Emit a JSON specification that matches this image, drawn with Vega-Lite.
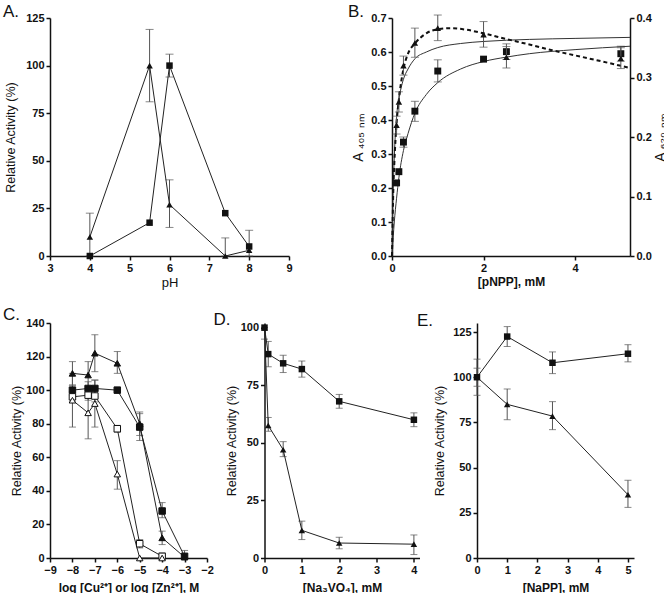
{
  "$schema": "https://vega.github.io/schema/vega-lite/v6.json",
  "background": "white",
  "padding": {"left": 3, "top": 3, "right": 0, "bottom": 0},
  "config": {
    "view": {"stroke": null},
    "axis": {"domainColor": "#111", "domainWidth": 1.5, "tickColor": "#111", "tickWidth": 1.5, "tickSize": 4, "labelFont": "Liberation Sans", "labelFontWeight": "bold", "labelFontSize": 11, "labelColor": "#111", "titleFont": "Liberation Sans", "titleFontSize": 12.5, "titleColor": "#111", "titleFontWeight": "normal", "grid": false, "labelPadding": 2, "labelFlush": false, "labelOverlap": false, "tickCount": 20},
    "title": {"font": "Liberation Sans", "fontSize": 17, "fontWeight": "normal", "anchor": "start", "frame": "group", "color": "#111", "baseline": "alphabetic", "offset": 0}
  },
  "datasets": {
    "A": [
      {"x": 4, "y": 0, "s": "sq"},
      {"x": 5.5, "y": 17.5, "s": "sq"},
      {"x": 6, "y": 100, "lo": 94, "hi": 106, "s": "sq"},
      {"x": 7.4, "y": 22.5, "s": "sq"},
      {"x": 8, "y": 5, "lo": 0, "hi": 13.5, "s": "sq"},
      {"x": 4, "y": 10, "lo": 0, "hi": 22.5, "s": "tri"},
      {"x": 5.5, "y": 100, "lo": 81, "hi": 119, "s": "tri"},
      {"x": 6, "y": 27, "lo": 15, "hi": 40, "s": "tri"},
      {"x": 7.4, "y": 0, "lo": 0, "hi": 9.5, "s": "tri"},
      {"x": 8, "y": 3, "s": "tri"}
    ],
    "Bsq": [
      {"x": 0.1, "y": 0.215},
      {"x": 0.15, "y": 0.248},
      {"x": 0.25, "y": 0.335, "lo": 0.32, "hi": 0.35},
      {"x": 0.5, "y": 0.426, "lo": 0.396, "hi": 0.455},
      {"x": 1, "y": 0.544, "lo": 0.512, "hi": 0.577},
      {"x": 2, "y": 0.579},
      {"x": 2.5, "y": 0.601, "lo": 0.578, "hi": 0.624},
      {"x": 5, "y": 0.595, "lo": 0.573, "hi": 0.617}
    ],
    "Btri": [
      {"x": 0.1, "y": 0.22, "lo": 0.205, "hi": 0.235},
      {"x": 0.15, "y": 0.259, "lo": 0.242, "hi": 0.276},
      {"x": 0.25, "y": 0.32, "lo": 0.304, "hi": 0.336},
      {"x": 0.5, "y": 0.358, "lo": 0.334, "hi": 0.383},
      {"x": 1, "y": 0.383, "lo": 0.362, "hi": 0.405},
      {"x": 2, "y": 0.372, "lo": 0.351, "hi": 0.394},
      {"x": 2.5, "y": 0.334, "lo": 0.316, "hi": 0.352},
      {"x": 5, "y": 0.332, "lo": 0.315, "hi": 0.35}
    ],
    "Bc": [
      {"x": 0, "y": 0, "c": "sq"}, {"x": 0.05, "y": 0.1, "c": "sq"}, {"x": 0.1, "y": 0.17, "c": "sq"}, {"x": 0.15, "y": 0.23, "c": "sq"}, {"x": 0.25, "y": 0.31, "c": "sq"}, {"x": 0.35, "y": 0.36, "c": "sq"}, {"x": 0.5, "y": 0.42, "c": "sq"}, {"x": 0.75, "y": 0.475, "c": "sq"}, {"x": 1, "y": 0.51, "c": "sq"}, {"x": 1.5, "y": 0.55, "c": "sq"}, {"x": 2, "y": 0.572, "c": "sq"}, {"x": 2.5, "y": 0.585, "c": "sq"}, {"x": 3, "y": 0.595, "c": "sq"}, {"x": 4, "y": 0.607, "c": "sq"}, {"x": 5.2, "y": 0.617, "c": "sq"},
      {"x": 0, "y": 0, "c": "tri"}, {"x": 0.02, "y": 0.16, "c": "tri"}, {"x": 0.05, "y": 0.29, "c": "tri"}, {"x": 0.1, "y": 0.41, "c": "tri"}, {"x": 0.15, "y": 0.46, "c": "tri"}, {"x": 0.25, "y": 0.52, "c": "tri"}, {"x": 0.35, "y": 0.55, "c": "tri"}, {"x": 0.5, "y": 0.58, "c": "tri"}, {"x": 0.75, "y": 0.6, "c": "tri"}, {"x": 1, "y": 0.613, "c": "tri"}, {"x": 1.5, "y": 0.625, "c": "tri"}, {"x": 2, "y": 0.631, "c": "tri"}, {"x": 3, "y": 0.637, "c": "tri"}, {"x": 4, "y": 0.64, "c": "tri"}, {"x": 5.2, "y": 0.643, "c": "tri"},
      {"x": 0, "y": 0, "c": "dash"}, {"x": 0.03, "y": 0.2, "c": "dash"}, {"x": 0.05, "y": 0.27, "c": "dash"}, {"x": 0.1, "y": 0.39, "c": "dash"}, {"x": 0.15, "y": 0.46, "c": "dash"}, {"x": 0.25, "y": 0.55, "c": "dash"}, {"x": 0.35, "y": 0.595, "c": "dash"}, {"x": 0.5, "y": 0.625, "c": "dash"}, {"x": 0.75, "y": 0.655, "c": "dash"}, {"x": 1, "y": 0.667, "c": "dash"}, {"x": 1.3, "y": 0.67, "c": "dash"}, {"x": 1.6, "y": 0.666, "c": "dash"}, {"x": 2, "y": 0.655, "c": "dash"}, {"x": 2.5, "y": 0.638, "c": "dash"}, {"x": 3, "y": 0.622, "c": "dash"}, {"x": 3.5, "y": 0.605, "c": "dash"}, {"x": 4, "y": 0.59, "c": "dash"}, {"x": 4.5, "y": 0.575, "c": "dash"}, {"x": 5.2, "y": 0.553, "c": "dash"}
    ],
    "C": [
      {"x": -8, "y": 110, "lo": 103, "hi": 117, "s": "ft"},
      {"x": -7.3, "y": 109, "lo": 101, "hi": 117, "s": "ft"},
      {"x": -7, "y": 122, "lo": 111, "hi": 133, "s": "ft"},
      {"x": -6, "y": 116, "lo": 110, "hi": 123, "s": "ft"},
      {"x": -5, "y": 80, "lo": 73, "hi": 87, "s": "ft"},
      {"x": -4, "y": 12, "lo": 8, "hi": 16, "s": "ft"},
      {"x": -3, "y": 0.5, "s": "ft"},
      {"x": -8, "y": 100, "lo": 97, "hi": 103, "s": "fs"},
      {"x": -7.3, "y": 101, "lo": 97, "hi": 105, "s": "fs"},
      {"x": -7, "y": 101, "lo": 96, "hi": 106, "s": "fs"},
      {"x": -6, "y": 100, "s": "fs"},
      {"x": -5, "y": 78, "lo": 70, "hi": 86, "s": "fs"},
      {"x": -4, "y": 28, "lo": 24, "hi": 33, "s": "fs"},
      {"x": -3, "y": 1, "lo": 0, "hi": 4.5, "s": "fs"},
      {"x": -8, "y": 96, "lo": 93, "hi": 99, "s": "os"},
      {"x": -7.3, "y": 97, "lo": 94, "hi": 100, "s": "os"},
      {"x": -7, "y": 96.5, "lo": 93, "hi": 100, "s": "os"},
      {"x": -6, "y": 77, "lo": 75, "hi": 79, "s": "os"},
      {"x": -5, "y": 8.5, "lo": 6, "hi": 11, "s": "os"},
      {"x": -4, "y": 1, "lo": 0, "hi": 3, "s": "os"},
      {"x": -8, "y": 94, "lo": 78, "hi": 110, "s": "ot"},
      {"x": -7.3, "y": 86.5, "lo": 71, "hi": 102, "s": "ot"},
      {"x": -7, "y": 92, "lo": 78, "hi": 106, "s": "ot"},
      {"x": -6, "y": 50, "lo": 41, "hi": 58, "s": "ot"},
      {"x": -5, "y": 0, "s": "ot"},
      {"x": -4, "y": 0, "s": "ot"}
    ],
    "D": [
      {"x": 0, "y": 100, "s": "sq"},
      {"x": 0.1, "y": 88.5, "lo": 83, "hi": 94, "s": "sq"},
      {"x": 0.5, "y": 84.5, "lo": 80.5, "hi": 88, "s": "sq"},
      {"x": 1, "y": 82, "lo": 78.5, "hi": 85.5, "s": "sq"},
      {"x": 2, "y": 68, "lo": 65, "hi": 71, "s": "sq"},
      {"x": 4, "y": 60, "lo": 57, "hi": 63, "s": "sq"},
      {"x": 0, "y": 100, "lo": 95, "hi": 100, "s": "tri"},
      {"x": 0.1, "y": 57.5, "lo": 55, "hi": 61, "s": "tri"},
      {"x": 0.5, "y": 47, "lo": 44, "hi": 50.5, "s": "tri"},
      {"x": 1, "y": 12, "lo": 8, "hi": 16, "s": "tri"},
      {"x": 2, "y": 6.5, "lo": 4, "hi": 9, "s": "tri"},
      {"x": 4, "y": 6, "lo": 1.5, "hi": 10, "s": "tri"}
    ],
    "E": [
      {"x": 0, "y": 100, "lo": 95, "hi": 105, "s": "sq"},
      {"x": 1, "y": 122.5, "lo": 117, "hi": 128, "s": "sq"},
      {"x": 2.5, "y": 108, "lo": 102, "hi": 114, "s": "sq"},
      {"x": 5, "y": 113, "lo": 108.5, "hi": 118, "s": "sq"},
      {"x": 0, "y": 100, "lo": 90, "hi": 110, "s": "tri"},
      {"x": 1, "y": 85, "lo": 76.5, "hi": 93.5, "s": "tri"},
      {"x": 2.5, "y": 78.5, "lo": 71, "hi": 86.5, "s": "tri"},
      {"x": 5, "y": 35, "lo": 28, "hi": 43, "s": "tri"}
    ]
  },
  "bounds": "flush",
  "spacing": 305,
  "vconcat": [
    {
      "bounds": "flush",
      "spacing": 103,
      "hconcat": [
        {
          "width": 239, "height": 238,
          "title": {"text": "A.", "dx": -47, "dy": 13},
          "data": {"name": "A"},
          "encoding": {"x": {"field": "x", "type": "quantitative", "title": "pH", "scale": {"domain": [3, 9], "nice": false, "zero": false}, "axis": {"values": [3, 4, 5, 6, 7, 8, 9], "format": "d", "tickCount": 20, "labelOverlap": false, "titleFontSize": 13, "titlePadding": 3}}},
          "layer": [
            {"mark": {"type": "rule", "color": "#555", "strokeWidth": 1}, "encoding": {"y": {"field": "lo", "type": "quantitative", "title": "Relative Activity (%)", "scale": {"domain": [0, 125], "nice": false}, "axis": {"values": [0, 25, 50, 75, 100, 125], "format": "d", "tickCount": 20, "labelOverlap": false, "titlePadding": 8}}, "y2": {"field": "hi"}}},
            {"mark": {"type": "tick", "orient": "horizontal", "size": 8, "thickness": 1, "color": "#555"}, "encoding": {"y": {"field": "hi", "type": "quantitative", "title": "Relative Activity (%)"}}},
            {"mark": {"type": "tick", "orient": "horizontal", "size": 8, "thickness": 1, "color": "#555"}, "encoding": {"y": {"field": "lo", "type": "quantitative", "title": "Relative Activity (%)"}}},
            {"mark": {"type": "line", "color": "#222", "strokeWidth": 1}, "encoding": {"y": {"field": "y", "type": "quantitative", "title": "Relative Activity (%)"}, "detail": {"field": "s"}}},
            {"mark": {"type": "point", "filled": true, "opacity": 1, "color": "#111", "size": 42}, "encoding": {"y": {"field": "y", "type": "quantitative", "title": "Relative Activity (%)"}, "shape": {"field": "s", "type": "nominal", "scale": {"domain": ["sq", "tri"], "range": ["square", "triangle-up"]}, "legend": null}}}
          ]
        },
        {
          "width": 238, "height": 238,
          "title": {"text": "B.", "dx": -44, "dy": 13},
          "encoding": {"x": {"field": "x", "type": "quantitative", "title": "[pNPP], mM", "scale": {"domain": [0, 5.2], "nice": false}, "axis": {"values": [0, 2, 4], "format": "d", "tickCount": 20, "labelOverlap": false, "titleFontWeight": "bold", "titleFontSize": 12, "titlePadding": 3}}},
          "layer": [
            {
              "layer": [
                {"data": {"name": "Bsq"}, "mark": {"type": "rule", "color": "#555", "strokeWidth": 1}, "encoding": {"y": {"field": "lo", "type": "quantitative", "title": "A ₄₀₅ ₙₘ", "scale": {"domain": [0, 0.7], "nice": false}, "axis": {"values": [0, 0.1, 0.2, 0.3, 0.4, 0.5, 0.6, 0.7], "tickCount": 20, "labelOverlap": false, "format": ".1f", "titleFontSize": 14, "titlePadding": 5}}, "y2": {"field": "hi"}}},
                {"data": {"name": "Bsq"}, "mark": {"type": "tick", "orient": "horizontal", "size": 8, "thickness": 1, "color": "#555"}, "encoding": {"y": {"field": "hi", "type": "quantitative", "title": "A ₄₀₅ ₙₘ"}}},
                {"data": {"name": "Bsq"}, "mark": {"type": "tick", "orient": "horizontal", "size": 8, "thickness": 1, "color": "#555"}, "encoding": {"y": {"field": "lo", "type": "quantitative", "title": "A ₄₀₅ ₙₘ"}}},
                {"data": {"name": "Bc"}, "transform": [{"filter": "datum.c !== 'dash'"}], "mark": {"type": "line", "color": "#333", "strokeWidth": 1, "interpolate": "monotone"}, "encoding": {"y": {"field": "y", "type": "quantitative", "title": "A ₄₀₅ ₙₘ"}, "detail": {"field": "c"}}},
                {"data": {"name": "Bc"}, "transform": [{"filter": "datum.c === 'dash'"}], "mark": {"type": "line", "color": "#111", "strokeWidth": 2, "strokeDash": [4, 3], "interpolate": "monotone"}, "encoding": {"y": {"field": "y", "type": "quantitative", "title": "A ₄₀₅ ₙₘ"}}},
                {"data": {"name": "Bsq"}, "mark": {"type": "point", "filled": true, "opacity": 1, "color": "#111", "size": 48, "shape": "square"}, "encoding": {"y": {"field": "y", "type": "quantitative", "title": "A ₄₀₅ ₙₘ"}}}
              ]
            },
            {
              "layer": [
                {"data": {"name": "Btri"}, "mark": {"type": "rule", "color": "#555", "strokeWidth": 1}, "encoding": {"y": {"field": "lo", "type": "quantitative", "title": "A ₆₂₀ ₙₘ", "scale": {"domain": [0, 0.4], "nice": false}, "axis": {"orient": "right", "values": [0, 0.1, 0.2, 0.3, 0.4], "tickCount": 20, "labelOverlap": false, "format": ".1f", "titleFontSize": 14, "titleAngle": 270, "titleBaseline": "top", "titlePadding": 2}}, "y2": {"field": "hi"}}},
                {"data": {"name": "Btri"}, "mark": {"type": "tick", "orient": "horizontal", "size": 8, "thickness": 1, "color": "#555"}, "encoding": {"y": {"field": "hi", "type": "quantitative", "title": "A ₆₂₀ ₙₘ"}}},
                {"data": {"name": "Btri"}, "mark": {"type": "tick", "orient": "horizontal", "size": 8, "thickness": 1, "color": "#555"}, "encoding": {"y": {"field": "lo", "type": "quantitative", "title": "A ₆₂₀ ₙₘ"}}},
                {"data": {"name": "Btri"}, "mark": {"type": "point", "filled": true, "opacity": 1, "color": "#111", "size": 42, "shape": "triangle-up"}, "encoding": {"y": {"field": "y", "type": "quantitative", "title": "A ₆₂₀ ₙₘ"}}}
              ]
            }
          ],
          "resolve": {"scale": {"y": "independent"}, "axis": {"y": "independent"}}
        }
      ]
    },
    {
      "bounds": "flush",
      "spacing": 57.5,
      "hconcat": [
        {
          "width": 157, "height": 235,
          "title": {"text": "C.", "dx": -47, "dy": 11},
          "data": {"name": "C"},
          "encoding": {"x": {"field": "x", "type": "quantitative", "title": "log [Cu²⁺]  or log [Zn²⁺],  M", "scale": {"domain": [-9, -2], "nice": false, "zero": false}, "axis": {"values": [-9, -8, -7, -6, -5, -4, -3, -2], "format": "d", "tickCount": 20, "labelOverlap": false, "titleFontWeight": "bold", "titleFontSize": 12, "titlePadding": 7}}},
          "layer": [
            {"mark": {"type": "rule", "color": "#555", "strokeWidth": 1}, "encoding": {"y": {"field": "lo", "type": "quantitative", "title": "Relative Activity (%)", "scale": {"domain": [0, 140], "nice": false}, "axis": {"values": [0, 20, 40, 60, 80, 100, 120, 140], "format": "d", "tickCount": 20, "labelOverlap": false, "titlePadding": 2}}, "y2": {"field": "hi"}}},
            {"mark": {"type": "tick", "orient": "horizontal", "size": 7, "thickness": 1, "color": "#555"}, "encoding": {"y": {"field": "hi", "type": "quantitative", "title": "Relative Activity (%)"}}},
            {"mark": {"type": "tick", "orient": "horizontal", "size": 7, "thickness": 1, "color": "#555"}, "encoding": {"y": {"field": "lo", "type": "quantitative", "title": "Relative Activity (%)"}}},
            {"mark": {"type": "line", "color": "#222", "strokeWidth": 1}, "encoding": {"y": {"field": "y", "type": "quantitative", "title": "Relative Activity (%)"}, "detail": {"field": "s"}}},
            {"mark": {"type": "point", "filled": true, "opacity": 1, "stroke": "#111", "strokeWidth": 1, "size": 42}, "encoding": {"y": {"field": "y", "type": "quantitative", "title": "Relative Activity (%)"}, "shape": {"field": "s", "type": "nominal", "scale": {"domain": ["fs", "ft", "os", "ot"], "range": ["square", "triangle-up", "square", "triangle-up"]}, "legend": null}, "fill": {"field": "s", "type": "nominal", "scale": {"domain": ["fs", "ft", "os", "ot"], "range": ["#111", "#111", "white", "white"]}, "legend": null}}}
          ]
        },
        {
          "width": 155, "height": 235,
          "title": {"text": "D.", "dx": -51, "dy": 11},
          "data": {"name": "D"},
          "encoding": {"x": {"field": "x", "type": "quantitative", "title": "[Na₃VO₄], mM", "scale": {"domain": [0, 4.15], "nice": false}, "axis": {"values": [0, 1, 2, 3, 4], "format": "d", "tickCount": 20, "labelOverlap": false, "titleFontWeight": "bold", "titleFontSize": 12, "titlePadding": 7}}},
          "layer": [
            {"mark": {"type": "rule", "color": "#555", "strokeWidth": 1}, "encoding": {"y": {"field": "lo", "type": "quantitative", "title": "Relative Activity (%)", "scale": {"domain": [0, 102], "nice": false}, "axis": {"values": [0, 25, 50, 75, 100], "format": "d", "tickCount": 20, "labelOverlap": false, "titlePadding": 2}}, "y2": {"field": "hi"}}},
            {"mark": {"type": "tick", "orient": "horizontal", "size": 7, "thickness": 1, "color": "#555"}, "encoding": {"y": {"field": "hi", "type": "quantitative", "title": "Relative Activity (%)"}}},
            {"mark": {"type": "tick", "orient": "horizontal", "size": 7, "thickness": 1, "color": "#555"}, "encoding": {"y": {"field": "lo", "type": "quantitative", "title": "Relative Activity (%)"}}},
            {"mark": {"type": "line", "color": "#222", "strokeWidth": 1}, "encoding": {"y": {"field": "y", "type": "quantitative", "title": "Relative Activity (%)"}, "detail": {"field": "s"}}},
            {"mark": {"type": "point", "filled": true, "opacity": 1, "color": "#111", "size": 42}, "encoding": {"y": {"field": "y", "type": "quantitative", "title": "Relative Activity (%)"}, "shape": {"field": "s", "type": "nominal", "scale": {"domain": ["sq", "tri"], "range": ["square", "triangle-up"]}, "legend": null}}}
          ]
        },
        {
          "width": 157, "height": 235,
          "title": {"text": "E.", "dx": -60, "dy": 11},
          "data": {"name": "E"},
          "encoding": {"x": {"field": "x", "type": "quantitative", "title": "[NaPP], mM", "scale": {"domain": [0, 5.2], "nice": false}, "axis": {"values": [0, 1, 2, 3, 4, 5], "format": "d", "tickCount": 20, "labelOverlap": false, "titleFontWeight": "bold", "titleFontSize": 12, "titlePadding": 7}}},
          "layer": [
            {"mark": {"type": "rule", "color": "#555", "strokeWidth": 1}, "encoding": {"y": {"field": "lo", "type": "quantitative", "title": "Relative Activity (%)", "scale": {"domain": [0, 130], "nice": false}, "axis": {"values": [0, 25, 50, 75, 100, 125], "format": "d", "tickCount": 20, "labelOverlap": false, "titlePadding": 6}}, "y2": {"field": "hi"}}},
            {"mark": {"type": "tick", "orient": "horizontal", "size": 7, "thickness": 1, "color": "#555"}, "encoding": {"y": {"field": "hi", "type": "quantitative", "title": "Relative Activity (%)"}}},
            {"mark": {"type": "tick", "orient": "horizontal", "size": 7, "thickness": 1, "color": "#555"}, "encoding": {"y": {"field": "lo", "type": "quantitative", "title": "Relative Activity (%)"}}},
            {"mark": {"type": "line", "color": "#222", "strokeWidth": 1}, "encoding": {"y": {"field": "y", "type": "quantitative", "title": "Relative Activity (%)"}, "detail": {"field": "s"}}},
            {"mark": {"type": "point", "filled": true, "opacity": 1, "color": "#111", "size": 42}, "encoding": {"y": {"field": "y", "type": "quantitative", "title": "Relative Activity (%)"}, "shape": {"field": "s", "type": "nominal", "scale": {"domain": ["sq", "tri"], "range": ["square", "triangle-up"]}, "legend": null}}}
          ]
        }
      ]
    }
  ]
}
